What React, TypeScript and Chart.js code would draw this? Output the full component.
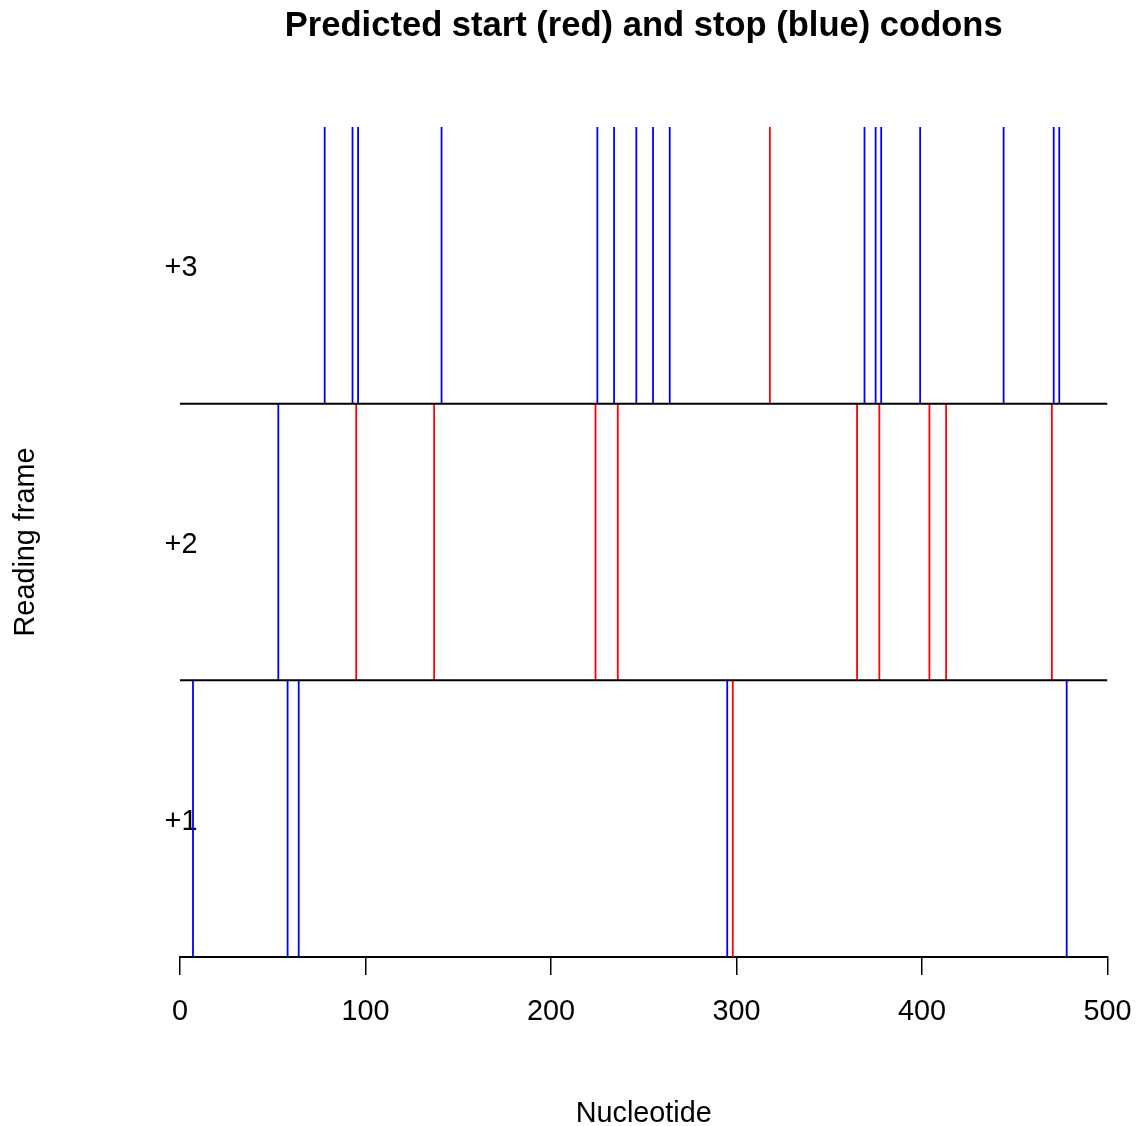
import React, { useEffect, useRef } from "react";
import { Chart, registerables } from "chart.js";

Chart.register(...registerables);

const FONT = '"Liberation Sans", Arial, Helvetica, sans-serif';

const frameLabels = ["+1", "+2", "+3"];
const frame1Starts = [298];
const frame1Stops = [7, 58, 64, 295, 478];
const frame2Starts = [95, 137, 224, 236, 365, 377, 404, 413, 470];
const frame2Stops = [53];
const frame3Starts = [318];
const frame3Stops = [78, 93, 96, 141, 225, 234, 246, 255, 264, 369, 375, 378, 399, 444, 471, 474];
const xTicks = [0, 100, 200, 300, 400, 500];
const seqLength = 500;

type Pt = { x: number; y: number | null };

function segments(positions: number[], frame: number): Pt[] {
  const out: Pt[] = [];
  positions.forEach((p) => {
    out.push({ x: p, y: frame - 1 });
    out.push({ x: p, y: frame });
    out.push({ x: p, y: null });
  });
  return out;
}

function frameLines(): Pt[] {
  const out: Pt[] = [];
  [1, 2].forEach((f) => {
    out.push({ x: 0, y: f });
    out.push({ x: seqLength, y: f });
    out.push({ x: seqLength, y: null });
  });
  return out;
}

export default function App() {
  const ref = useRef<HTMLCanvasElement | null>(null);

  useEffect(() => {
    if (!ref.current) return;
    const starts = [
      ...segments(frame1Starts, 1),
      ...segments(frame2Starts, 2),
      ...segments(frame3Starts, 3),
    ];
    const stops = [
      ...segments(frame1Stops, 1),
      ...segments(frame2Stops, 2),
      ...segments(frame3Stops, 3),
    ];

    const labelPlugin = {
      id: "frameLabels",
      beforeDatasetsDraw(chart: any) {
        const { ctx, scales } = chart;
        ctx.save();
        ctx.font = `28.8px ${FONT}`;
        ctx.fillStyle = "#000";
        ctx.textAlign = "center";
        ctx.textBaseline = "middle";
        frameLabels.forEach((lab, i) => {
          const x = scales.x.getPixelForValue(0) + 1;
          const y = scales.y.getPixelForValue(i + 0.5) + 3;
          ctx.fillText(lab, x, y);
        });
        ctx.restore();
      },
    };

    const chart = new Chart(ref.current, {
      type: "scatter",
      data: {
        datasets: [
          {
            label: "frames",
            data: frameLines() as any,
            showLine: true,
            borderColor: "#000000",
            borderWidth: 2,
            pointRadius: 0,
            spanGaps: false,
          },
          {
            label: "stop",
            data: stops as any,
            showLine: true,
            borderColor: "#0000FF",
            borderWidth: 1.8,
            pointRadius: 0,
            spanGaps: false,
          },
          {
            label: "start",
            data: starts as any,
            showLine: true,
            borderColor: "#FF0000",
            borderWidth: 1.8,
            pointRadius: 0,
            spanGaps: false,
          },
        ],
      },
      options: {
        responsive: false,
        animation: false,
        events: [],
        layout: { padding: { left: 0, right: 28.5, top: 0, bottom: 0 } },
        plugins: {
          legend: { display: false },
          tooltip: { enabled: false },
          title: {
            display: true,
            fullSize: false,
            text: "Predicted start (red) and stop (blue) codons",
            color: "#000",
            font: { family: FONT, size: 34.56, weight: "bold" },
            padding: { top: 5.3, bottom: 80.2 },
          },
        },
        scales: {
          x: {
            type: "linear",
            min: 0,
            max: seqLength,
            afterBuildTicks: (scale: any) => {
              scale.ticks = xTicks.map((v) => ({ value: v }));
            },
            afterFit: (scale: any) => {
              scale.height = 169;
              scale.paddingLeft = 0;
              scale.paddingRight = 0;
            },
            ticks: {
              color: "#000",
              font: { family: FONT, size: 28.8 },
              padding: 19.7,
              maxRotation: 0,
              autoSkip: false,
            },
            grid: {
              drawOnChartArea: false,
              drawTicks: true,
              tickLength: 18,
              color: "#000",
              lineWidth: 1.5,
            },
            border: { display: true, color: "#000", width: 2 },
            title: {
              display: true,
              text: "Nucleotide",
              color: "#000",
              font: { family: FONT, size: 28.8 },
              padding: { top: 0, bottom: -5 },
            },
          },
          y: {
            type: "linear",
            min: 0,
            max: 3,
            afterFit: (scale: any) => {
              scale.width = 180;
              scale.paddingTop = 0;
              scale.paddingBottom = 0;
            },
            ticks: { display: false },
            grid: { display: false },
            border: { display: false },
            title: {
              display: true,
              text: "Reading frame",
              color: "#000",
              font: { family: FONT, size: 28.8 },
              padding: { top: 8.7, bottom: 0 },
            },
          },
        },
      },
      plugins: [labelPlugin],
    } as any);

    return () => chart.destroy();
  }, []);

  return (
    <div
      style={{
        position: "fixed",
        left: 0,
        top: 0,
        width: 1136,
        height: 1126,
        background: "#fff",
      }}
    >
      <canvas ref={ref} width={1136} height={1126} style={{ display: "block" }} />
    </div>
  );
}
